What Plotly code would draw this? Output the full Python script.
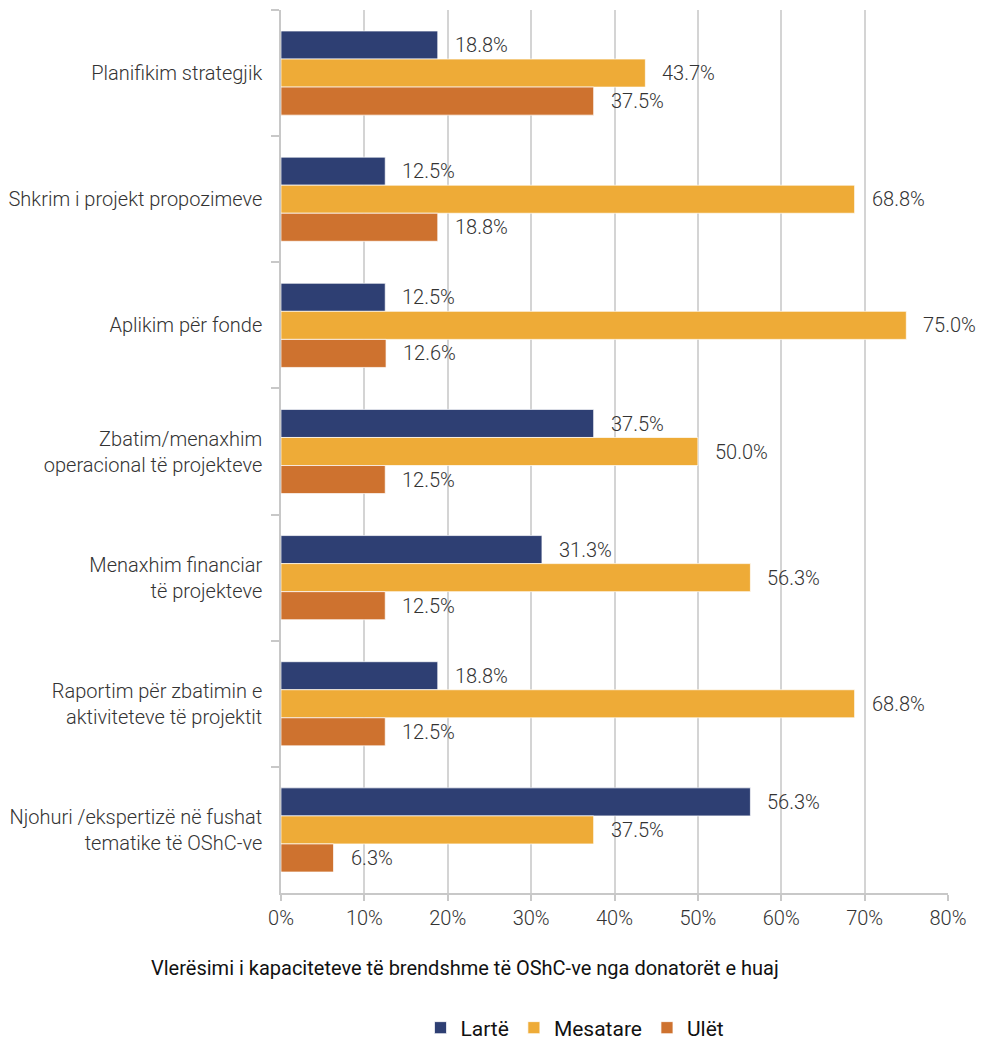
import plotly.graph_objects as go

categories = [
    "Planifikim strategjik",
    "Shkrim i projekt propozimeve",
    "Aplikim për fonde",
    "Zbatim/menaxhim<br>operacional të projekteve",
    "Menaxhim financiar<br>të projekteve",
    "Raportim për zbatimin e<br>aktiviteteve të projektit",
    "Njohuri /ekspertizë në fushat<br>tematike të OShC-ve",
]
larte = [18.8, 12.5, 12.5, 37.5, 31.3, 18.8, 56.3]
mesatare = [43.7, 68.8, 75.0, 50.0, 56.3, 68.8, 37.5]
ulet = [37.5, 18.8, 12.6, 12.5, 12.5, 12.5, 6.3]
series_names = ["Lartë", "Mesatare", "Ulët"]
colors = ["#2E3F73", "#EEAB37", "#CE722F"]
x_ticks = [0, 10, 20, 30, 40, 50, 60, 70, 80]
x_title = "Vlerësimi i kapaciteteve të brendshme të OShC-ve nga donatorët e huaj"

FONT = "Roboto, sans-serif"
TXT = "#333333"

fig = go.Figure()
series = [larte, mesatare, ulet]
for name, vals, col in zip(series_names, series, colors):
    fig.add_trace(go.Bar(
        y=categories, x=vals, name=name, orientation="h",
        marker=dict(color=col, line=dict(color="rgba(255,255,255,0.7)", width=1)),
        hoverinfo="x+name",
    ))

shifts = [28, 0, -28]
for vals, ys in zip(series, shifts):
    for cat, v in zip(categories, vals):
        fig.add_annotation(x=v, y=cat, text=f"{v:.1f}%", showarrow=False,
                           xanchor="left", yanchor="middle", xshift=15, yshift=ys,
                           font=dict(family=FONT, size=20, color=TXT, weight=300))

L, R, T, B = 281, 33, 10, 147
PW, PH = 981 - L - R, 1040 - T - B
fig.add_annotation(x=(465 - L) / PW, y=(1040 - B - 968) / PH, xref="paper", yref="paper",
                   yanchor="middle", xanchor="center", text=x_title, showarrow=False,
                   font=dict(family=FONT, size=20, color="#111111", weight=400))

fig.update_layout(
    width=981, height=1040,
    margin=dict(l=L, r=R, t=T, b=B, autoexpand=False),
    paper_bgcolor="white", plot_bgcolor="white",
    barmode="group", bargap=0.333, bargroupgap=0,
    font=dict(family=FONT, size=20, color=TXT, weight=300),
    legend=dict(orientation="h", x=575 / 981, xanchor="center", xref="container",
                y=1 - 1028 / 1040, yanchor="middle", yref="container",
                font=dict(family=FONT, size=21, color="#111111", weight=400),
                itemwidth=30, traceorder="normal"),
    showlegend=True,
)
fig.update_xaxes(
    range=[0, 80], tickvals=x_ticks, ticktext=[f"{t}%" for t in x_ticks],
    showgrid=True, gridcolor="#d4d4d4", gridwidth=1.5,
    showline=True, linecolor="#c8c8c8", linewidth=1.5,
    ticks="outside", ticklen=6, tickcolor="#c8c8c8", tickwidth=1.5,
    zeroline=False, tickfont=dict(size=20), automargin=False,
)
fig.update_yaxes(
    autorange="reversed", tickson="boundaries",
    showline=True, linecolor="#c8c8c8", linewidth=1.5,
    ticks="outside", ticklen=8, tickcolor="#c8c8c8", tickwidth=1.5,
    showgrid=False, ticklabelstandoff=13, tickfont=dict(size=20), automargin=False,
)
fig.write_html("out.html", config={"displayModeBar": False},
               post_script="document.body.style.margin='0';")
